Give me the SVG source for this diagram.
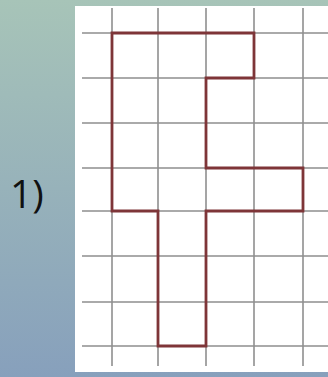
<svg xmlns="http://www.w3.org/2000/svg" width="328" height="377" viewBox="0 0 328 377">
<defs>
<linearGradient id="bg" x1="0" y1="0" x2="0" y2="1">
<stop offset="0" stop-color="#a7c4b8"/>
<stop offset="1" stop-color="#87a0bc"/>
</linearGradient>
<style>
.g{stroke:#8f8f8f;stroke-width:1.6;fill:none}
.f{stroke:#7e3538;stroke-width:2.8;fill:none;stroke-linejoin:miter}
.t{font-family:"Open Sans","Liberation Sans",sans-serif;font-size:39px;fill:#111}
</style>
</defs>
<rect width="328" height="377" fill="url(#bg)"/>
<rect id="panel" x="75" y="6" width="253" height="366" fill="#ffffff"/>
<g id="grid">
<path class="g" d="M112 8V366M158 8V366M206 8V366M254 8V366M303 8V366"/>
<path class="g" d="M82 33H328M82 78H328M82 123H328M82 168H328M82 211H328M82 256H328M82 302H328M82 346H328"/>
</g>
<g id="figure">
<path class="f" d="M112 33H254V78H206V168H303V211H206V346H158V211H112Z"/>
</g>
<text id="label" class="t" x="10" y="208">1)</text>
</svg>
